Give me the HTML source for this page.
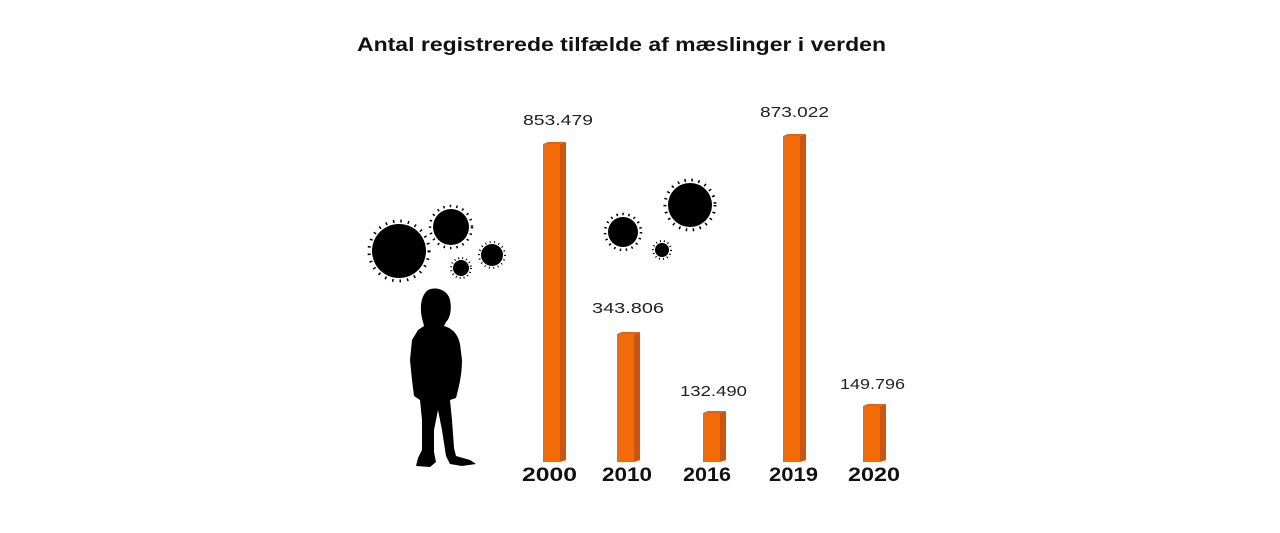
<!DOCTYPE html>
<html><head><meta charset="utf-8"><style>
html,body{margin:0;padding:0;background:#fff;}
body{width:1280px;height:528px;overflow:hidden;position:relative;font-family:"Liberation Sans",sans-serif;}
</style></head><body>
<svg width="1280" height="528" viewBox="0 0 1280 528" xmlns="http://www.w3.org/2000/svg">
<text x="357" y="51" textLength="529" lengthAdjust="spacingAndGlyphs" font-family="Liberation Sans, sans-serif" font-weight="bold" font-size="19" fill="#111">Antal registrerede tilfælde af mæslinger i verden</text>

<g fill="#f36a08">
<rect x="543" y="144" width="17" height="318"/>
<rect x="617" y="334" width="17" height="128"/>
<rect x="703" y="413" width="17" height="49"/>
<rect x="783" y="136" width="17" height="326"/>
<rect x="863" y="406" width="17" height="56"/>
</g>
<g fill="#c4571a">
<polygon points="560,144 566,142 566,460 560,462"/>
<polygon points="634,334 640,332 640,460 634,462"/>
<polygon points="720,413 726,411 726,460 720,462"/>
<polygon points="800,136 806,134 806,460 800,462"/>
<polygon points="880,406 886,404 886,460 880,462"/>
</g>
<g fill="#e8600a">
<polygon points="543,144 548,142 566,142 560,144"/>
<polygon points="617,334 622,332 640,332 634,334"/>
<polygon points="703,413 708,411 726,411 720,413"/>
<polygon points="783,136 788,134 806,134 800,136"/>
<polygon points="863,406 868,404 886,404 880,406"/>
</g>

<g font-family="Liberation Sans, sans-serif" font-size="15" fill="#222">
<text x="523" y="125" textLength="70" lengthAdjust="spacingAndGlyphs">853.479</text>
<text x="592" y="313" textLength="72" lengthAdjust="spacingAndGlyphs">343.806</text>
<text x="680" y="396" textLength="67" lengthAdjust="spacingAndGlyphs">132.490</text>
<text x="760" y="117" textLength="69" lengthAdjust="spacingAndGlyphs">873.022</text>
<text x="840" y="389" textLength="65" lengthAdjust="spacingAndGlyphs">149.796</text>
</g>
<g font-family="Liberation Sans, sans-serif" font-size="19" font-weight="bold" fill="#111">
<text x="522" y="481" textLength="55" lengthAdjust="spacingAndGlyphs">2000</text>
<text x="602" y="481" textLength="50" lengthAdjust="spacingAndGlyphs">2010</text>
<text x="683" y="481" textLength="48" lengthAdjust="spacingAndGlyphs">2016</text>
<text x="769" y="481" textLength="49" lengthAdjust="spacingAndGlyphs">2019</text>
<text x="848" y="481" textLength="52" lengthAdjust="spacingAndGlyphs">2020</text>
</g>

<g fill="#000" stroke="#000">
<g transform="translate(399,251)"><circle r="27" stroke="none"/><circle r="30" fill="none" stroke-width="3" stroke-dasharray="1.5 6"/></g>
<g transform="translate(451,227)"><circle r="18" stroke="none"/><circle r="21" fill="none" stroke-width="2.5" stroke-dasharray="1.5 5"/></g>
<g transform="translate(461,268)"><circle r="8" stroke="none"/><circle r="10" fill="none" stroke-width="2" stroke-dasharray="1 3"/></g>
<g transform="translate(492,255)"><circle r="11" stroke="none"/><circle r="13" fill="none" stroke-width="2" stroke-dasharray="1 3.5"/></g>
<g transform="translate(623,232)"><circle r="15" stroke="none"/><circle r="18" fill="none" stroke-width="2.5" stroke-dasharray="1.5 4.5"/></g>
<g transform="translate(662,250)"><circle r="7" stroke="none"/><circle r="9" fill="none" stroke-width="2" stroke-dasharray="1 3"/></g>
<g transform="translate(690,205)"><circle r="22" stroke="none"/><circle r="25" fill="none" stroke-width="3" stroke-dasharray="1.5 5.5"/></g>
</g>

<path fill="#000" d="M428,290 C436,286 448,290 450,300 C452,310 450,318 446,322 L444,326 C452,328 458,334 460,344 L462,360 C462,372 460,382 458,390 L456,398 L450,400 L452,420 L454,448 L456,456 L470,460 L476,464 L462,466 L450,464 L446,456 L442,430 L438,410 L434,430 L434,452 L436,462 L430,467 L416,466 L418,458 L422,450 L422,420 L420,400 L414,396 L412,380 L410,360 L412,340 L418,330 L424,326 L422,318 C420,310 420,296 428,290 Z"/>
</svg>
</body></html>
